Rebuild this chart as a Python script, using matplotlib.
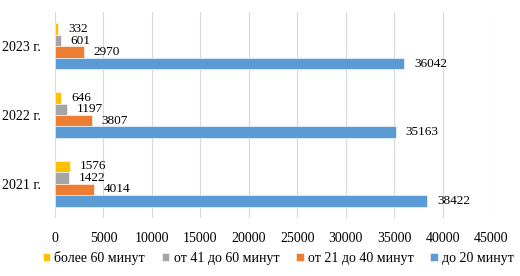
import numpy as np
import matplotlib.pyplot as plt

plt.rcParams['font.family'] = ['Liberation Serif', 'DejaVu Serif']

years = ["2021 г.", "2022 г.", "2023 г."]
series_names = ["более 60 минут", "от 41 до 60 минут", "от 21 до 40 минут", "до 20 минут"]
over_60 = [1576, 646, 332]
from_41_60 = [1422, 1197, 601]
from_21_40 = [4014, 3807, 2970]
upto_20 = [38422, 35163, 36042]
colors = ["#FFC000", "#A5A5A5", "#ED7D31", "#5B9BD5"]

values = [over_60, from_41_60, from_21_40, upto_20]

fig = plt.figure(figsize=(5.2, 2.76), dpi=100)
ax = fig.add_axes([55 / 520, 1 - 218 / 276, 436 / 520, 206 / 276])

y = np.arange(len(years))
h = 0.1667
# yellow on top, blue at bottom of each group
offsets = [1.5 * h, 0.5 * h, -0.5 * h, -1.5 * h]

for vals, name, col, off in zip(values, series_names, colors, offsets):
    bars = ax.barh(y + off, vals, height=h, color=col, label=name,
                   edgecolor='white', linewidth=0.4, zorder=3)
    ax.bar_label(bars, labels=[str(v) for v in vals], padding=7, fontsize=9.5)

ax.set_xlim(0, 45000)
ax.set_ylim(-0.5, 2.5)
ax.set_xticks(np.arange(0, 45001, 5000))
ax.set_yticks(y)
ax.set_yticklabels(years)
ax.tick_params(axis='both', length=0, labelsize=10)
ax.tick_params(axis='x', pad=10)
ax.tick_params(axis='y', pad=10)
ax.grid(axis='x', color='#D9D9D9', linewidth=0.8, zorder=0)
for s in ax.spines.values():
    s.set_visible(False)

fig.legend(loc='center', bbox_to_anchor=(0.535, 1 - 258 / 276), ncol=4, frameon=False,
           fontsize=10, handlelength=0.55, handleheight=0.55, handletextpad=0.3,
           columnspacing=1.2)

fig.savefig("out.png", dpi=100)
